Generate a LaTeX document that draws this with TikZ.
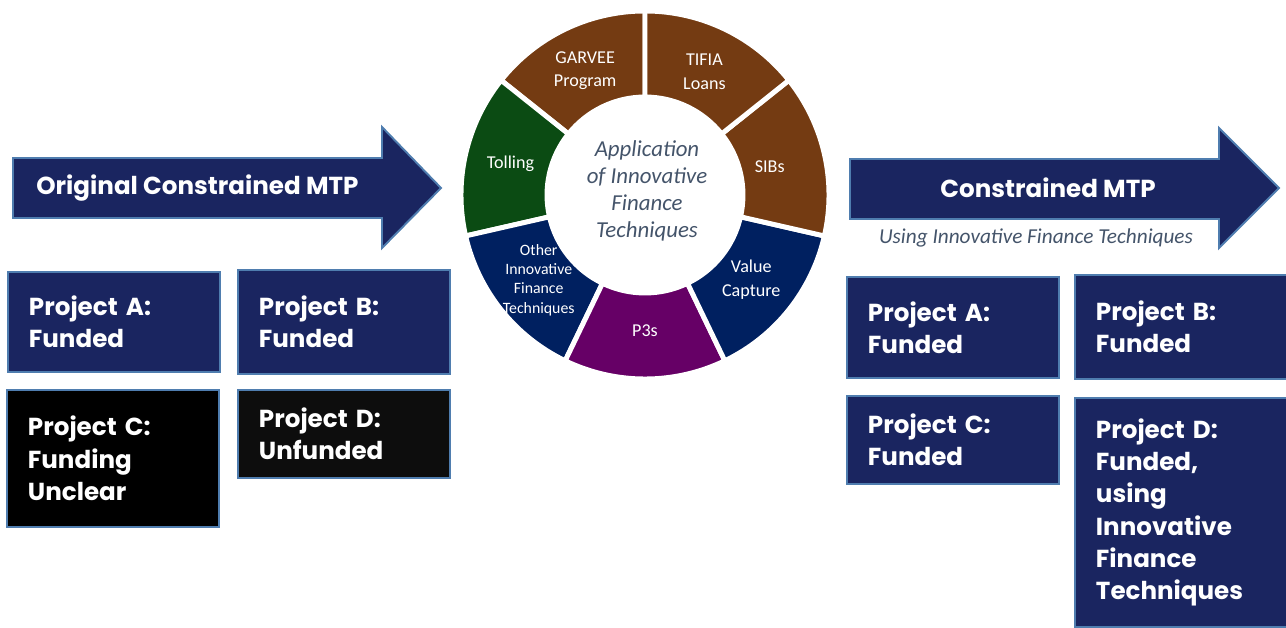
\documentclass[tikz,border=0pt]{standalone}
\usepackage{fontspec}
\setmainfont{Carlito}
\newfontfamily\gothic{Poppins}
\definecolor{navy}{HTML}{1A2560}
\definecolor{rim}{HTML}{4F7DAF}
\definecolor{brownseg}{HTML}{743B12}
\definecolor{greenseg}{HTML}{0B4B13}
\definecolor{blueseg}{HTML}{002060}
\definecolor{purpleseg}{HTML}{660066}
\definecolor{slate}{HTML}{44546A}
\begin{document}
\begin{tikzpicture}[x=0.02cm, y=0.02cm,
    edge/.style={draw=rim, line width=1.1pt},
    pbox/.style={edge, fill=navy, text=white, anchor=north west, align=left,
      text width=3.4cm, inner xsep=0.42cm, inner ysep=0pt,
      font=\gothic\bfseries\fontsize{14}{18.4}\selectfont},
    arrowtext/.style={text=white, inner sep=0pt, font=\gothic\bfseries\fontsize{14}{18}\selectfont},
    seg/.style={draw=white, line width=2.8pt},
    segtext/.style={text=white, align=center, inner sep=0pt, font=\fontsize{10.3}{13.5}\selectfont}]
  \useasboundingbox (0,0) rectangle (1286,627);

  % arrows
  \draw[edge, fill=navy] (13,469) -- (382,469) -- (382,500) -- (441,439)
    -- (382,379) -- (382,409) -- (13,409) -- cycle;
  \draw[edge, fill=navy] (850,468) -- (1219,468) -- (1219,499) -- (1279,439)
    -- (1219,379) -- (1219,408) -- (850,408) -- cycle;
  \node[arrowtext, anchor=west] (oldtitle) at (36,439) {Original Constrained MTP};
  \node[arrowtext] (newtitle) at (1048,439) {Constrained MTP};
  \node[text=slate, inner sep=0pt, font=\itshape\fontsize{12.1}{14}\selectfont] (subtitle) at (1036,389)
    {Using Innovative Finance Techniques};

  % projects before
  \node[pbox, minimum height=2cm] (oldA) at (7,356) {Project A:\\Funded};
  \node[pbox, minimum height=2.08cm] (oldB) at (237,358) {Project B:\\Funded};
  \node[pbox, fill=black, minimum height=2.74cm] (oldC) at (6,238) {Project C:\\Funding\\Unclear};
  \node[pbox, fill=black!95, minimum height=1.76cm] (oldD) at (237,238) {Project D:\\Unfunded};

  % projects after
  \node[pbox, minimum height=2.02cm] (newA) at (846,351) {Project A:\\Funded};
  \node[pbox, minimum height=2.08cm] (newB) at (1074,353) {Project B:\\Funded};
  \node[pbox, minimum height=1.76cm] (newC) at (846,232) {Project C:\\Funded};
  \node[pbox, minimum height=4.58cm] (newD) at (1074,230)
    {Project D:\\Funded,\\using\\Innovative\\Finance\\Techniques};

  % wheel
  \begin{scope}[shift={(645,432)}]
    \draw[seg, fill=brownseg] (90:184) arc[start angle=90, end angle=141.43, radius=184]
      -- (141.43:98) arc[start angle=141.43, end angle=90, radius=98] -- cycle;
    \draw[seg, fill=greenseg] (141.43:184) arc[start angle=141.43, end angle=192.86, radius=184]
      -- (192.86:98) arc[start angle=192.86, end angle=141.43, radius=98] -- cycle;
    \draw[seg, fill=blueseg] (192.86:184) arc[start angle=192.86, end angle=244.29, radius=184]
      -- (244.29:98) arc[start angle=244.29, end angle=192.86, radius=98] -- cycle;
    \draw[seg, fill=purpleseg] (244.29:184) arc[start angle=244.29, end angle=295.71, radius=184]
      -- (295.71:98) arc[start angle=295.71, end angle=244.29, radius=98] -- cycle;
    \draw[seg, fill=blueseg] (295.71:184) arc[start angle=295.71, end angle=347.14, radius=184]
      -- (347.14:98) arc[start angle=347.14, end angle=295.71, radius=98] -- cycle;
    \draw[seg, fill=brownseg] (-12.86:184) arc[start angle=-12.86, end angle=38.57, radius=184]
      -- (38.57:98) arc[start angle=38.57, end angle=-12.86, radius=98] -- cycle;
    \draw[seg, fill=brownseg] (38.57:184) arc[start angle=38.57, end angle=90, radius=184]
      -- (90:98) arc[start angle=90, end angle=38.57, radius=98] -- cycle;
    \path
      (115.7:138) node[segtext] (garvee) {GARVEE\\Program}
      (167.1:138) node[segtext] (tolling) {Tolling}
      (218.6:136) node[segtext, font=\fontsize{9}{11}\selectfont] (other)
        {Other\\Innovative\\Finance\\Techniques}
      (270.0:136) node[segtext] (p3s) {P3s}
      (321.4:136) node[segtext] (value) {Value\\Capture}
      (12.9:128) node[segtext] (sibs) {SIBs}
      (64.3:137) node[segtext] (tifia) {TIFIA\\Loans};
    \node[text=slate, align=center, inner sep=0pt, font=\itshape\fontsize{13}{15.4}\selectfont]
      (hub) at (2,4) {Application\\of Innovative\\Finance\\Techniques};
  \end{scope}
\end{tikzpicture}
\end{document}
